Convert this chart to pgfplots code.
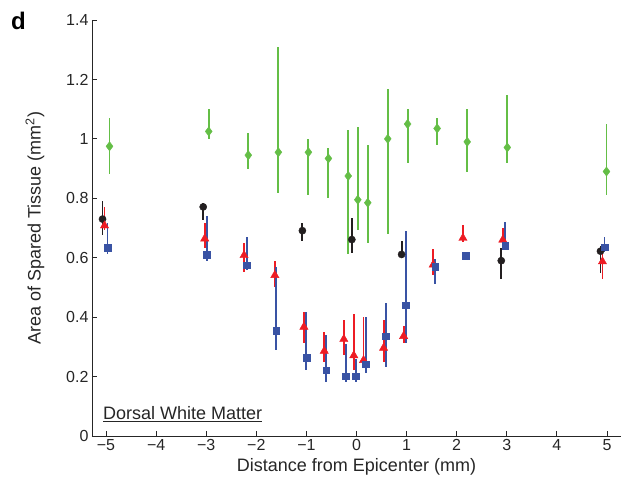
\documentclass[border=0pt]{standalone}
\usepackage{pgfplots}
\pgfplotsset{compat=1.18}
\usepackage{pgfplotstable}
\usepackage{fontspec}
\setmainfont{Liberation Sans}
\definecolor{cgreen}{RGB}{100,190,70}
\definecolor{cblack}{RGB}{35,31,32}
\definecolor{cred}{RGB}{237,28,36}
\definecolor{cblue}{RGB}{57,83,164}
\pgfplotstableread{
x y ep em
-4.93 0.975 0.094 0.094
-2.95 1.025 0.074 0.025
-2.16 0.945 0.075 0.045
-1.56 0.955 0.354 0.136
-0.96 0.955 0.045 0.145
-0.56 0.934 0.035 0.134
-0.165 0.875 0.154 0.264
0.026 0.795 0.245 0.103
0.225 0.785 0.194 0.134
0.624 1.000 0.169 0.319
1.02 1.050 0.049 0.130
1.61 1.035 0.035 0.055
2.21 0.990 0.109 0.100
3.01 0.971 0.178 0.051
4.99 0.890 0.159 0.079
}\green
\pgfplotstableread{
x y ep em
-5.07 0.730 0.062 0.055
-3.06 0.771 0.014 0.045
-1.08 0.691 0.027 0.035
-0.093 0.661 0.071 0.045
0.90 0.611 0.046 0.011
2.89 0.590 0.044 0.063
4.87 0.622 0.018 0.075
}\black
\pgfplotstableread{
x y ep em
-5.03 0.708 0.061 0.016
-3.03 0.664 0.054 0.033
-2.245 0.608 0.040 0.056
-1.63 0.541 0.048 0.039
-1.05 0.367 0.051 0.055
-0.644 0.286 0.063 0.036
-0.253 0.326 0.063 0.054
-0.054 0.271 0.138 0.049
0.14 0.255 0.144 0.015
0.54 0.296 0.093 0.046
0.94 0.336 0.034 0.024
1.53 0.576 0.054 0.035
2.125 0.666 0.044 0.013
2.92 0.660 0.040 0.010
4.91 0.587 0.038 0.057
}\red
\pgfplotstableread{
x y ep em
-4.97 0.634 0.084 0.023
-2.99 0.611 0.130 0.022
-2.19 0.575 0.095 0.017
-1.60 0.355 0.214 0.064
-1.0 0.264 0.154 0.042
-0.604 0.221 0.118 0.039
-0.213 0.201 0.108 0.019
-0.014 0.201 0.058 0.019
0.185 0.241 0.158 0.030
0.584 0.336 0.113 0.105
0.98 0.440 0.249 0.128
1.57 0.570 0.027 0.059
2.18 0.606 0.005 0.005
2.97 0.641 0.078 0.011
4.95 0.635 0.035 0.015
}\blue
\begin{document}
\begin{tikzpicture}
\useasboundingbox (0,0) rectangle (621pt,481pt);
\begin{axis}[
  at={(92pt,45pt)}, anchor=south west,
  scale only axis, width=529pt, height=416pt,
  xmin=-5.28, xmax=5.28, ymin=0, ymax=1.4,
  axis x line*=bottom, axis y line*=left,
  axis line style={-, line width=0.8pt, color=black!85},
  tick align=inside, major tick length=5pt,
  tick style={line width=0.8pt, color=black!85},
  xtick={-5,-4,...,5},
  xticklabels={−5,−4,−3,−2,−1,0,1,2,3,4,5},
  ytick={0,0.2,0.4,0.6,0.8,1,1.2,1.4},
  yticklabels={0,0.2,0.4,0.6,0.8,1,1.2,1.4},
  ticklabel style={font=\fontsize{16}{18}\selectfont, text=black!85},
  xlabel={Distance from Epicenter (mm)},
  ylabel={Area of Spared Tissue (mm\textsuperscript{2})},
  label style={font=\fontsize{18}{20}\selectfont, text=black!85},
  xlabel style={yshift=-1pt},
  ylabel style={yshift=15pt},
  error bars/y dir=both, error bars/y explicit,
  error bars/error mark=none,
  error bars/error bar style={line width=1.9pt},
  clip=false,
]
\addplot[only marks, mark=diamond*, mark size=4.6pt, color=cgreen]
  table[x=x, y=y, y error plus=ep, y error minus=em]{\green};
\addplot[only marks, mark=*, mark size=3.6pt, color=cblack]
  table[x=x, y=y, y error plus=ep, y error minus=em]{\black};
\addplot[only marks, mark=triangle*, mark size=4.8pt, color=cred]
  table[x=x, y=y, y error plus=ep, y error minus=em]{\red};
\addplot[only marks, mark=square*, mark size=3.3pt, color=cblue]
  table[x=x, y=y, y error plus=ep, y error minus=em]{\blue};
\end{axis}
\node[anchor=base west, inner sep=0pt, font=\fontsize{18}{20}\selectfont, text=black!85] at (103pt,61pt) {\underline{Dorsal White Matter}};
\node[anchor=base west, inner sep=0pt, font=\fontsize{24}{26}\selectfont\bfseries] at (11pt,451pt) {d};
\end{tikzpicture}
\end{document}
